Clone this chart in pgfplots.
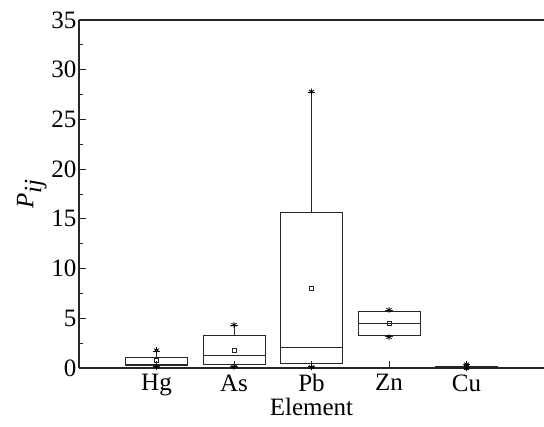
\documentclass[border=0pt]{standalone}
\usepackage{pgfplots}
\pgfplotsset{compat=1.18}
\usepgfplotslibrary{statistics}
\usepackage{fontspec}
\setmainfont{Liberation Serif}
\begin{document}
\begin{tikzpicture}
\begin{axis}[
  scale only axis, width=465pt, height=348pt,
  xmin=0, xmax=6, ymin=0, ymax=35,
  axis x line*=bottom, axis y line*=left,
  axis line style={line width=1.2pt, black!85},
  tick align=inside,
  xtick={1,2,3,4,5}, xticklabels={Hg,As,Pb,Zn,Cu},
  ytick={0,5,...,35}, minor y tick num=1,
  major tick length=7pt, minor tick length=4pt,
  every tick/.style={black!85, line width=1pt},
  /pgf/number format/assume math mode=true,
  tick label style={font=\fontsize{25}{28}\selectfont},
  yticklabel style={xshift=1pt},
  xticklabel style={yshift=-3pt},
  label style={font=\fontsize{25}{28}\selectfont},
  xlabel={Element}, ylabel={\textit{P}$_{\textit{ij}}$},
  xlabel style={yshift=5pt},
  ylabel style={yshift=-2pt},
  boxplot/draw direction=y,
  boxplot/box extend=0.8,
  boxplot/whisker extend=0.1,
  boxplot/every average/.style={/tikz/mark=square, mark size=2pt, /tikz/mark options={line width=0.6pt}},
  clip=false,
]
\draw[line width=1.2pt, black!85] (rel axis cs:0,1) -- (rel axis cs:1,1);
\coordinate (bl) at (rel axis cs:0,0);
\coordinate (tr) at (rel axis cs:1,1);
\addplot[black!85, line width=0.9pt, boxplot prepared={draw position=1,
  lower whisker=0.2, lower quartile=0.3, median=0.4, upper quartile=1.05, upper whisker=1.7, average=0.75}] coordinates {};
\addplot[black!85, line width=0.9pt, boxplot prepared={draw position=2,
  lower whisker=0.2, lower quartile=0.35, median=1.25, upper quartile=3.25, upper whisker=4.3, average=1.8}] coordinates {};
\addplot[black!85, line width=0.9pt, boxplot prepared={draw position=3,
  lower whisker=0.15, lower quartile=0.45, median=2.05, upper quartile=15.6, upper whisker=27.7, average=8.05}] coordinates {};
\addplot[black!85, line width=0.9pt, boxplot prepared={draw position=4,
  lower whisker=3.15, lower quartile=3.25, median=4.5, upper quartile=5.7, upper whisker=5.8, average=4.5}] coordinates {};
\addplot[black!85, line width=0.9pt, boxplot prepared={draw position=5,
  lower whisker=0.03, lower quartile=0.05, median=0.08, upper quartile=0.15, upper whisker=0.35, average=0.1}] coordinates {};
\addplot[only marks, mark=asterisk, mark size=3pt, black, mark options={line width=0.8pt}] coordinates {
  (1,1.8) (1,0.12) (2,4.35) (2,0.12) (3,27.8) (3,0.1) (4,5.85) (4,3.1) (5,0.38) (5,0.0)};
\end{axis}
\pgfresetboundingbox
\path[use as bounding box] ([xshift=-79pt,yshift=-58pt]bl) rectangle ([yshift=20pt]tr);
\end{tikzpicture}
\end{document}
